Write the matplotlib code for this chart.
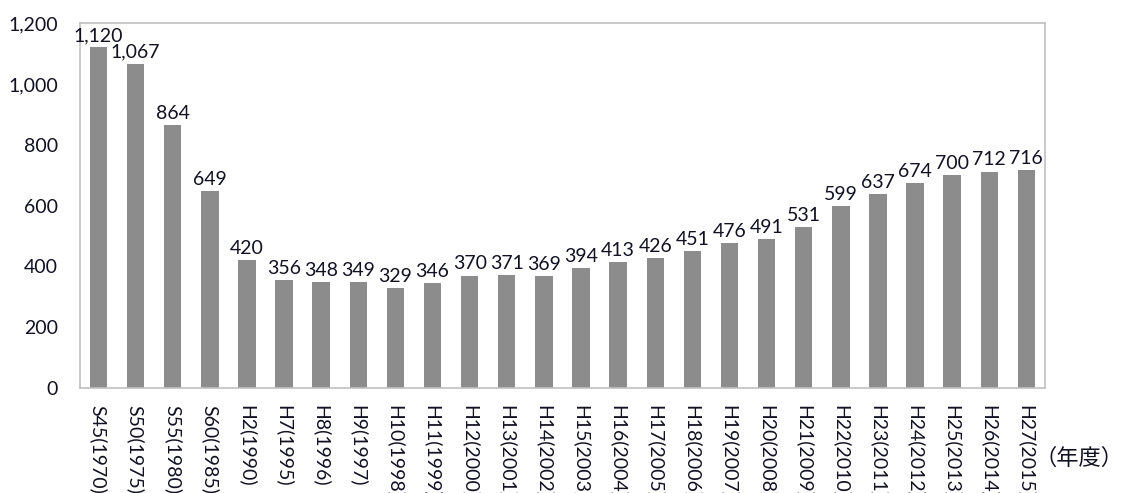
import matplotlib
matplotlib.use("Agg")
import matplotlib.pyplot as plt

categories = ["S45(1970)", "S50(1975)", "S55(1980)", "S60(1985)", "H2(1990)",
              "H7(1995)", "H8(1996)", "H9(1997)", "H10(1998)", "H11(1999)",
              "H12(2000)", "H13(2001)", "H14(2002)", "H15(2003)", "H16(2004)",
              "H17(2005)", "H18(2006)", "H19(2007)", "H20(2008)", "H21(2009)",
              "H22(2010)", "H23(2011)", "H24(2012)", "H25(2013)", "H26(2014)",
              "H27(2015)"]
values = [1120, 1067, 864, 649, 420, 356, 348, 349, 329, 346, 370, 371, 369,
          394, 413, 426, 451, 476, 491, 531, 599, 637, 674, 700, 712, 716]
yticks = [0, 200, 400, 600, 800, 1000, 1200]

plt.rcParams['font.family'] = ['Lato', 'Noto Sans CJK JP', 'DejaVu Sans']

fig = plt.figure(figsize=(11.26, 4.93), dpi=100)
ax = fig.add_axes([0.071, 0.213, 0.857, 0.740])

x = list(range(len(values)))
ax.bar(x, values, width=0.47, color="#8c8c8c", zorder=2)
for xi, v in zip(x, values):
    ax.text(xi, v + 10, f"{v:,}", ha="center", va="bottom", fontsize=14, color="#111122")

ax.set_xlim(-0.5, len(values) - 0.5)
ax.set_ylim(0, 1200)
ax.set_yticks(yticks)
ax.set_yticklabels([f"{t:,}" for t in yticks], fontsize=14, color="#111122")
ax.set_xticks(x)
ax.set_xticklabels(categories, rotation=270, fontsize=14, va="top", ha="center",
                   color="#111122")
ax.tick_params(length=0, pad=12)
ax.tick_params(axis="y", pad=16)
for s in ax.spines.values():
    s.set_color("#c0c0c0")
    s.set_linewidth(1.2)

fig.text(0.998, 0.07, "（年度）", ha="right", va="center", fontsize=16,
         color="#111122", family=['Noto Sans CJK JP', 'DejaVu Sans'])

fig.savefig("out.png", dpi=100)
